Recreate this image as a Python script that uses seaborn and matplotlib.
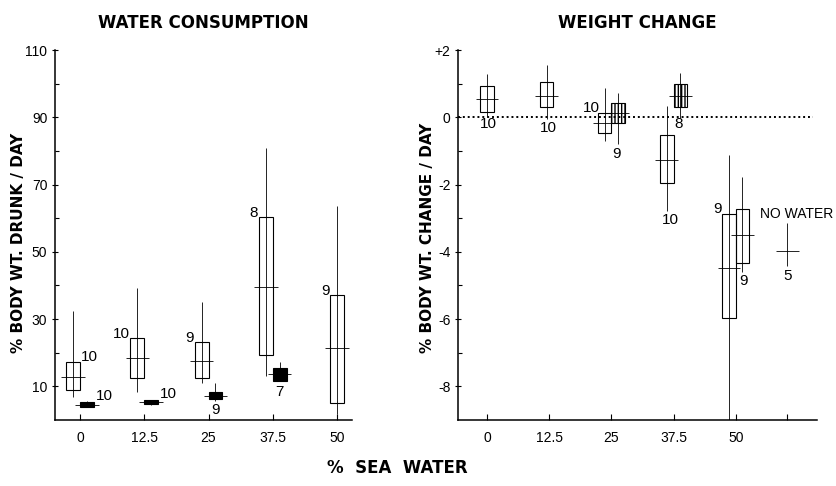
import seaborn as sns
import matplotlib.pyplot as plt

# % sea water in the drinking water
conc = [0, 12.5, 25, 37.5, 50]
conc_b = [0, 12.5, 25, 37.5]

# water consumption, % body wt drunk / day (open boxes)
drunk_mean = [12.7, 18.4, 17.5, 39.5, 21.3]
drunk_lo = [8.8, 12.4, 12.4, 19.2, 4.9]
drunk_hi = [17.2, 24.3, 23.1, 60.4, 37.2]
drunk_min = [6.7, 8.2, 10.9, 13.0, 1.9]
drunk_max = [32.4, 39.2, 35.0, 80.8, 63.7]
drunk_n = [10, 10, 9, 8, 9]

# water consumption, second group (filled boxes)
drunk_b_mean = [4.3, 5.2, 7.2, 13.6]
drunk_b_lo = [3.7, 4.6, 6.1, 11.5]
drunk_b_hi = [5.2, 5.8, 8.2, 15.4]
drunk_b_min = [3.7, 4.3, 5.6, 11.5]
drunk_b_max = [5.5, 6.0, 10.9, 17.2]
drunk_b_n = [10, 10, 9, 7]

# weight change, % body wt / day (open boxes)
wt_mean = [0.54, 0.63, -0.18, -1.26, -4.47]
wt_lo = [0.15, 0.30, -0.48, -1.95, -5.98]
wt_hi = [0.93, 1.04, 0.12, -0.52, -2.88]
wt_min = [0.0, -0.05, -0.69, -2.8, -9.0]
wt_max = [1.28, 1.55, 0.87, 0.33, -1.13]
wt_n = [10, 10, 10, 10, 9]

# weight change, second group
conc_wb = [25, 37.5, 50]
wt_b_mean = [0.14, 0.63, -3.5]
wt_b_lo = [-0.16, 0.31, -4.33]
wt_b_hi = [0.42, 1.0, -2.73]
wt_b_min = [-0.79, -0.03, -4.6]
wt_b_max = [0.73, 1.32, -1.78]
wt_b_n = [9, 8, 9]

# no water group
nowater_mean = -3.97
nowater_min = -4.42
nowater_max = -3.13
nowater_n = 5

sns.set_style("ticks")
plt.rcParams['font.family'] = ['Liberation Sans', 'DejaVu Sans']
for k in ('text.color', 'axes.labelcolor', 'xtick.color', 'ytick.color', 'axes.edgecolor'):
    plt.rcParams[k] = 'black'

W = 2.7          # box width in x units
OFF = 1.35       # offset of paired boxes
LW = 0.8


def draw_boxes(ax, xs, mean, lo, hi, mn, mx, face='none', hatch=None, lw=LW):
    for i, x in enumerate(xs):
        h = hatch[i] if isinstance(hatch, list) else hatch
        ax.vlines(x, mn[i], mx[i], color='black', lw=0.6, zorder=2)
        ax.bar(x, hi[i] - lo[i], bottom=lo[i], width=W, facecolor=face,
               edgecolor='black', linewidth=lw, hatch=h, zorder=3)
        ax.hlines(mean[i], x - 0.85 * W, x + 0.85 * W, color='black', lw=0.6, zorder=4)


fig = plt.figure(figsize=(8.36, 4.86), dpi=100)
ax1 = fig.add_axes([0.0658, 0.136, 0.355, 0.761])
ax2 = fig.add_axes([0.548, 0.136, 0.429, 0.761])

# ---- water consumption
xa = [c - OFF if c in conc_b else c for c in conc]
xb = [c + OFF for c in conc_b]
draw_boxes(ax1, xa, drunk_mean, drunk_lo, drunk_hi, drunk_min, drunk_max)
draw_boxes(ax1, xb, drunk_b_mean, drunk_b_lo, drunk_b_hi, drunk_b_min, drunk_b_max, face='black')

fs_n = 11
ax1.text(xa[0] + W / 2 + 0.2, drunk_hi[0] + 1.5, str(drunk_n[0]), ha='left', va='center', fontsize=fs_n)
for i in [1, 2, 3, 4]:
    ax1.text(xa[i] - W / 2 - 0.1, drunk_hi[i] + 1.2, str(drunk_n[i]), ha='right', va='center', fontsize=fs_n)
for i in [0, 1]:
    ax1.text(xb[i] + W / 2 + 0.3, drunk_b_hi[i] + 1.8, str(drunk_b_n[i]), ha='left', va='center', fontsize=fs_n)
for i in [2, 3]:
    ax1.text(xb[i], drunk_b_lo[i] - 1.2, str(drunk_b_n[i]), ha='center', va='top', fontsize=fs_n)

ax1.set_xlim(-4.9, 52.9)
ax1.set_ylim(0, 110)
ax1.set_xticks(conc)
ax1.set_xticklabels(['0', '12.5', '25', '37.5', '50'])
ax1.set_yticks([10, 30, 50, 70, 90, 110])
ax1.set_yticks([20, 40, 60, 80, 100], minor=True)
ax1.set_title('WATER CONSUMPTION', fontsize=12, fontweight='bold', family='DejaVu Sans', pad=16)

# ---- weight change
xw = [c - OFF if c in conc_wb else c for c in conc]
xw[1] = conc[1] - 0.5
xwb = [c + OFF for c in conc_wb]
ax2.axhline(0, xmin=0.0, xmax=0.99, color='black', ls=(0, (1, 1.5)), lw=1.4, zorder=1)
draw_boxes(ax2, xw, wt_mean, wt_lo, wt_hi, wt_min, wt_max)
draw_boxes(ax2, xwb, wt_b_mean, wt_b_lo, wt_b_hi, wt_b_min, wt_b_max,
           hatch=['|||||', '|||||', None], lw=LW)

nx = 60.4
ax2.vlines(nx, nowater_min, nowater_max, color='black', lw=0.6)
ax2.hlines(nowater_mean, nx - 0.85 * W, nx + 0.85 * W, color='black', lw=0.6)
ax2.text(nx, nowater_min - 0.1, str(nowater_n), ha='center', va='top', fontsize=fs_n)
ax2.text(nx - 5.5, -2.87, 'NO WATER', ha='left', va='center', fontsize=10)

ax2.text(xw[0] + 0.3, wt_lo[0] - 0.35, str(wt_n[0]), ha='center', va='center', fontsize=fs_n)
ax2.text(xw[1] + 0.3, wt_lo[1] - 0.62, str(wt_n[1]), ha='center', va='center', fontsize=fs_n)
ax2.text(xw[2] - W / 2 + 0.3, wt_hi[2] + 0.15, str(wt_n[2]), ha='right', va='center', fontsize=fs_n)
ax2.text(xw[3] + 0.8, wt_min[3] - 0.05, str(wt_n[3]), ha='center', va='top', fontsize=fs_n)
ax2.text(xw[4] - W / 2 - 0.1, wt_hi[4] + 0.15, str(wt_n[4]), ha='right', va='center', fontsize=fs_n)
ax2.text(xwb[0] - 0.3, wt_b_min[0] - 0.1, str(wt_b_n[0]), ha='center', va='top', fontsize=fs_n)
ax2.text(xwb[1] - 0.3, wt_b_lo[1] - 0.3, str(wt_b_n[1]), ha='center', va='top', fontsize=fs_n)
ax2.text(xwb[2] + 0.3, wt_b_min[2] - 0.05, str(wt_b_n[2]), ha='center', va='top', fontsize=fs_n)

ax2.set_xlim(-5.8, 66.3)
ax2.set_ylim(-9, 2)
ax2.set_xticks(conc + [nx])
ax2.set_xticklabels(['0', '12.5', '25', '37.5', '50', ''])
ax2.set_yticks([2, 0, -2, -4, -6, -8])
ax2.set_yticklabels(['+2', '0', '-2', '-4', '-6', '-8'])
ax2.set_yticks([1, -1, -3, -5, -7], minor=True)
ax2.set_title('WEIGHT CHANGE', fontsize=12, fontweight='bold', family='DejaVu Sans', pad=16)

for ax in (ax1, ax2):
    sns.despine(ax=ax)
    ax.tick_params(axis='both', which='major', labelsize=10, length=4, width=0.8, direction='inout')
    ax.tick_params(axis='both', which='minor', length=3, width=0.8, direction='in')
    ax.tick_params(axis='x', direction='in', pad=8)
    for s in ('left', 'bottom'):
        ax.spines[s].set_linewidth(1.1)

fig.text(0.022, 0.50, '% BODY WT. DRUNK / DAY', rotation=90, ha='center', va='center',
         fontsize=11, fontweight='bold', family='DejaVu Sans')
fig.text(0.511, 0.51, '% BODY WT. CHANGE / DAY', rotation=90, ha='center', va='center',
         fontsize=11, fontweight='bold', family='DejaVu Sans')
fig.text(0.475, 0.037, '%  SEA  WATER', ha='center', va='center',
         fontsize=12, fontweight='bold', family='DejaVu Sans')

fig.savefig('out.png', dpi=100)
